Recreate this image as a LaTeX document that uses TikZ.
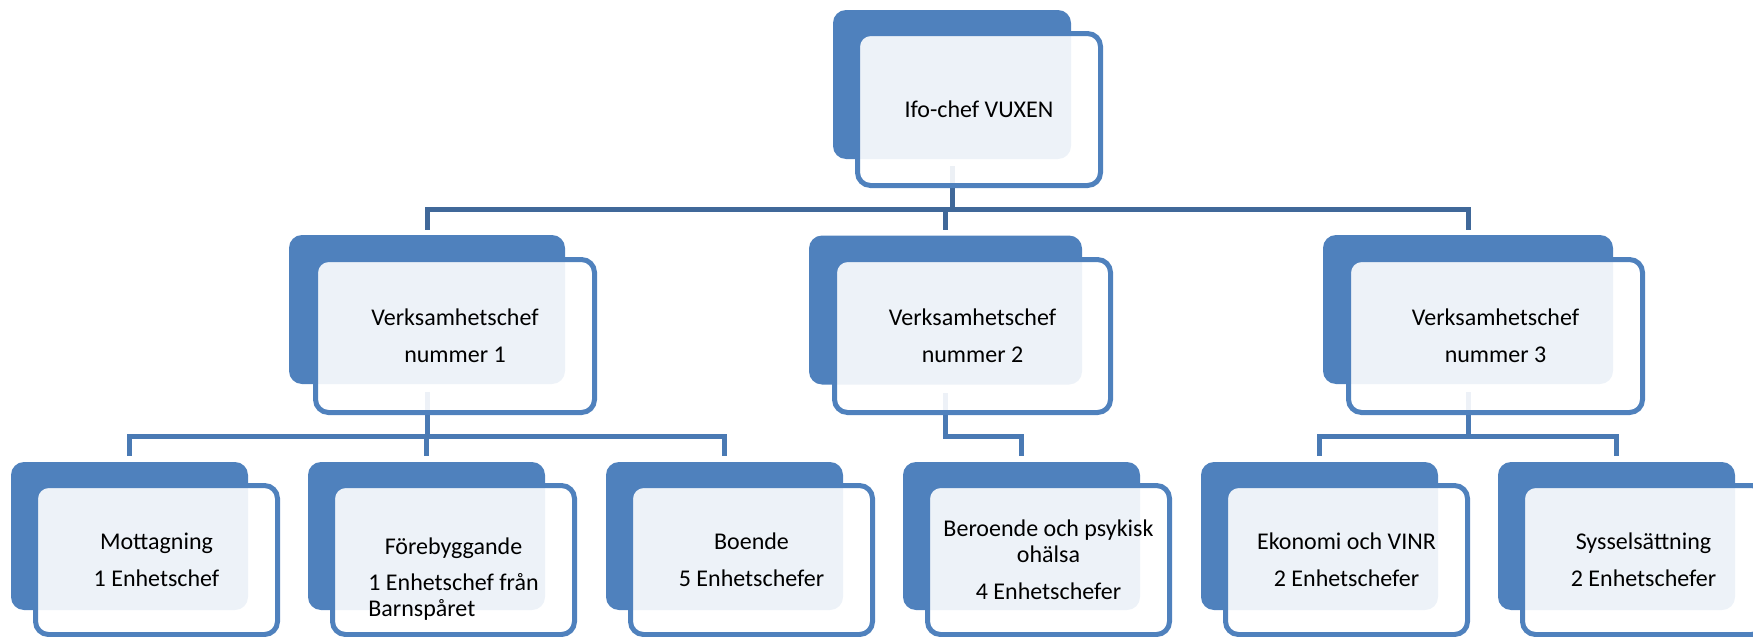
\documentclass[tikz,border=0pt]{standalone}
\usepackage{fontspec}
\setmainfont{Carlito}
\usepackage{tikz}
\definecolor{boxblue}{RGB}{79,129,189}
\definecolor{linkdark}{RGB}{64,104,153}
\definecolor{linkmid}{RGB}{74,122,180}
\tikzset{
	back/.style={fill=boxblue, rounded corners=6.5pt, inner sep=0pt, minimum height=74.5pt},
	boxtext/.style={align=center, font=\fontsize{12pt}{13pt}\selectfont},
	front/.style={boxtext, draw=boxblue, line width=2.5pt, fill=white, fill opacity=0.9, text opacity=1, rounded corners=6.5pt, inner sep=0pt, minimum height=76.5pt},
	link/.style={draw=linkdark, line width=2.5pt},
	sublink/.style={draw=linkmid, line width=2.5pt}
}

\begin{document}
\begin{tikzpicture}[x=0.5pt, y=-0.5pt]
	\useasboundingbox (0,0) rectangle (1753,637);
	\clip (0,0) rectangle (1753,637);

	\node[back, minimum width=119pt] (ifoBack) at (952,84.5) {};
	\node[back, minimum width=138pt] (vc1Back) at (427,309.5) {};
	\node[back, minimum width=136.5pt] (vc2Back) at (945.5,310) {};
	\node[back, minimum width=145pt] (vc3Back) at (1468,309.5) {};
	\foreach \name/\x in {mottBack/129.5, foreBack/426.5, boenBack/724.5, berBack/1021.5, ekoBack/1319.5, sysBack/1616.5}
		\node[back, minimum width=118.5pt, minimum height=74pt] (\name) at (\x,536) {};

	\coordinate (ifoJoin) at ([yshift=-25pt]ifoBack.south);
	\foreach \child in {vc1Back, vc2Back, vc3Back}
		\draw[link] ([yshift=-3.5pt]ifoBack.south) -- (ifoJoin) -| ([yshift=2.5pt]\child.north);

	\coordinate (vc1Join) at ([yshift=-26pt]vc1Back.south);
	\foreach \child in {mottBack, foreBack, boenBack}
		\draw[sublink] ([yshift=-4pt]vc1Back.south) -- (vc1Join) -| ([yshift=3pt]\child.north);
	\coordinate (vc2Join) at ([yshift=-26pt]vc2Back.south);
	\draw[sublink] ([yshift=-4pt]vc2Back.south) -- (vc2Join) -| ([yshift=3pt]berBack.north);
	\coordinate (vc3Join) at ([yshift=-26pt]vc3Back.south);
	\foreach \child in {ekoBack, sysBack}
		\draw[sublink] ([yshift=-4pt]vc3Back.south) -- (vc3Join) -| ([yshift=3pt]\child.north);

	\node[front, minimum width=121.5pt, minimum height=76pt] (ifo) at ([shift={(27,25)}]ifoBack.center) {Ifo-chef VUXEN};
	\node[front, minimum width=139.5pt] (vc1) at ([shift={(28,26.5)}]vc1Back.center) {Verksamhetschef\\[5.3pt]nummer 1};
	\node[front, minimum width=138pt] (vc2) at ([shift={(27,26)}]vc2Back.center) {Verksamhetschef\\[5.3pt]nummer 2};
	\node[front, minimum width=147pt] (vc3) at ([shift={(27.5,26.5)}]vc3Back.center) {Verksamhetschef\\[5.3pt]nummer 3};

	\node[front, minimum width=121pt, minimum height=74.5pt] (mott) at ([shift={(27,24)}]mottBack.center) {Mottagning\\[5.3pt]1 Enhetschef};
	\node[front, minimum width=121pt, minimum height=74.5pt] (fore) at ([shift={(27,24)}]foreBack.center) {};
	\node[boxtext] (foreText) at ([yshift=-10.5pt]fore.center) {Förebyggande\\[5.3pt]\begin{tabular}[t]{@{}l@{}}1 Enhetschef från\\Barnspåret\end{tabular}};
	\node[front, minimum width=121pt, minimum height=74.5pt] (boen) at ([shift={(27,24)}]boenBack.center) {Boende\\[5.3pt]5 Enhetschefer};
	\node[front, minimum width=121pt, minimum height=74.5pt] (ber) at ([shift={(27,24)}]berBack.center) {Beroende och psykisk\\ohälsa\\[5.3pt]4 Enhetschefer};
	\node[front, minimum width=121pt, minimum height=74.5pt] (eko) at ([shift={(27,24)}]ekoBack.center) {Ekonomi och VINR\\[5.3pt]2 Enhetschefer};
	\node[front, minimum width=121pt, minimum height=74.5pt] (sys) at ([shift={(27,24)}]sysBack.center) {Sysselsättning\\[5.3pt]2 Enhetschefer};
\end{tikzpicture}
\end{document}
